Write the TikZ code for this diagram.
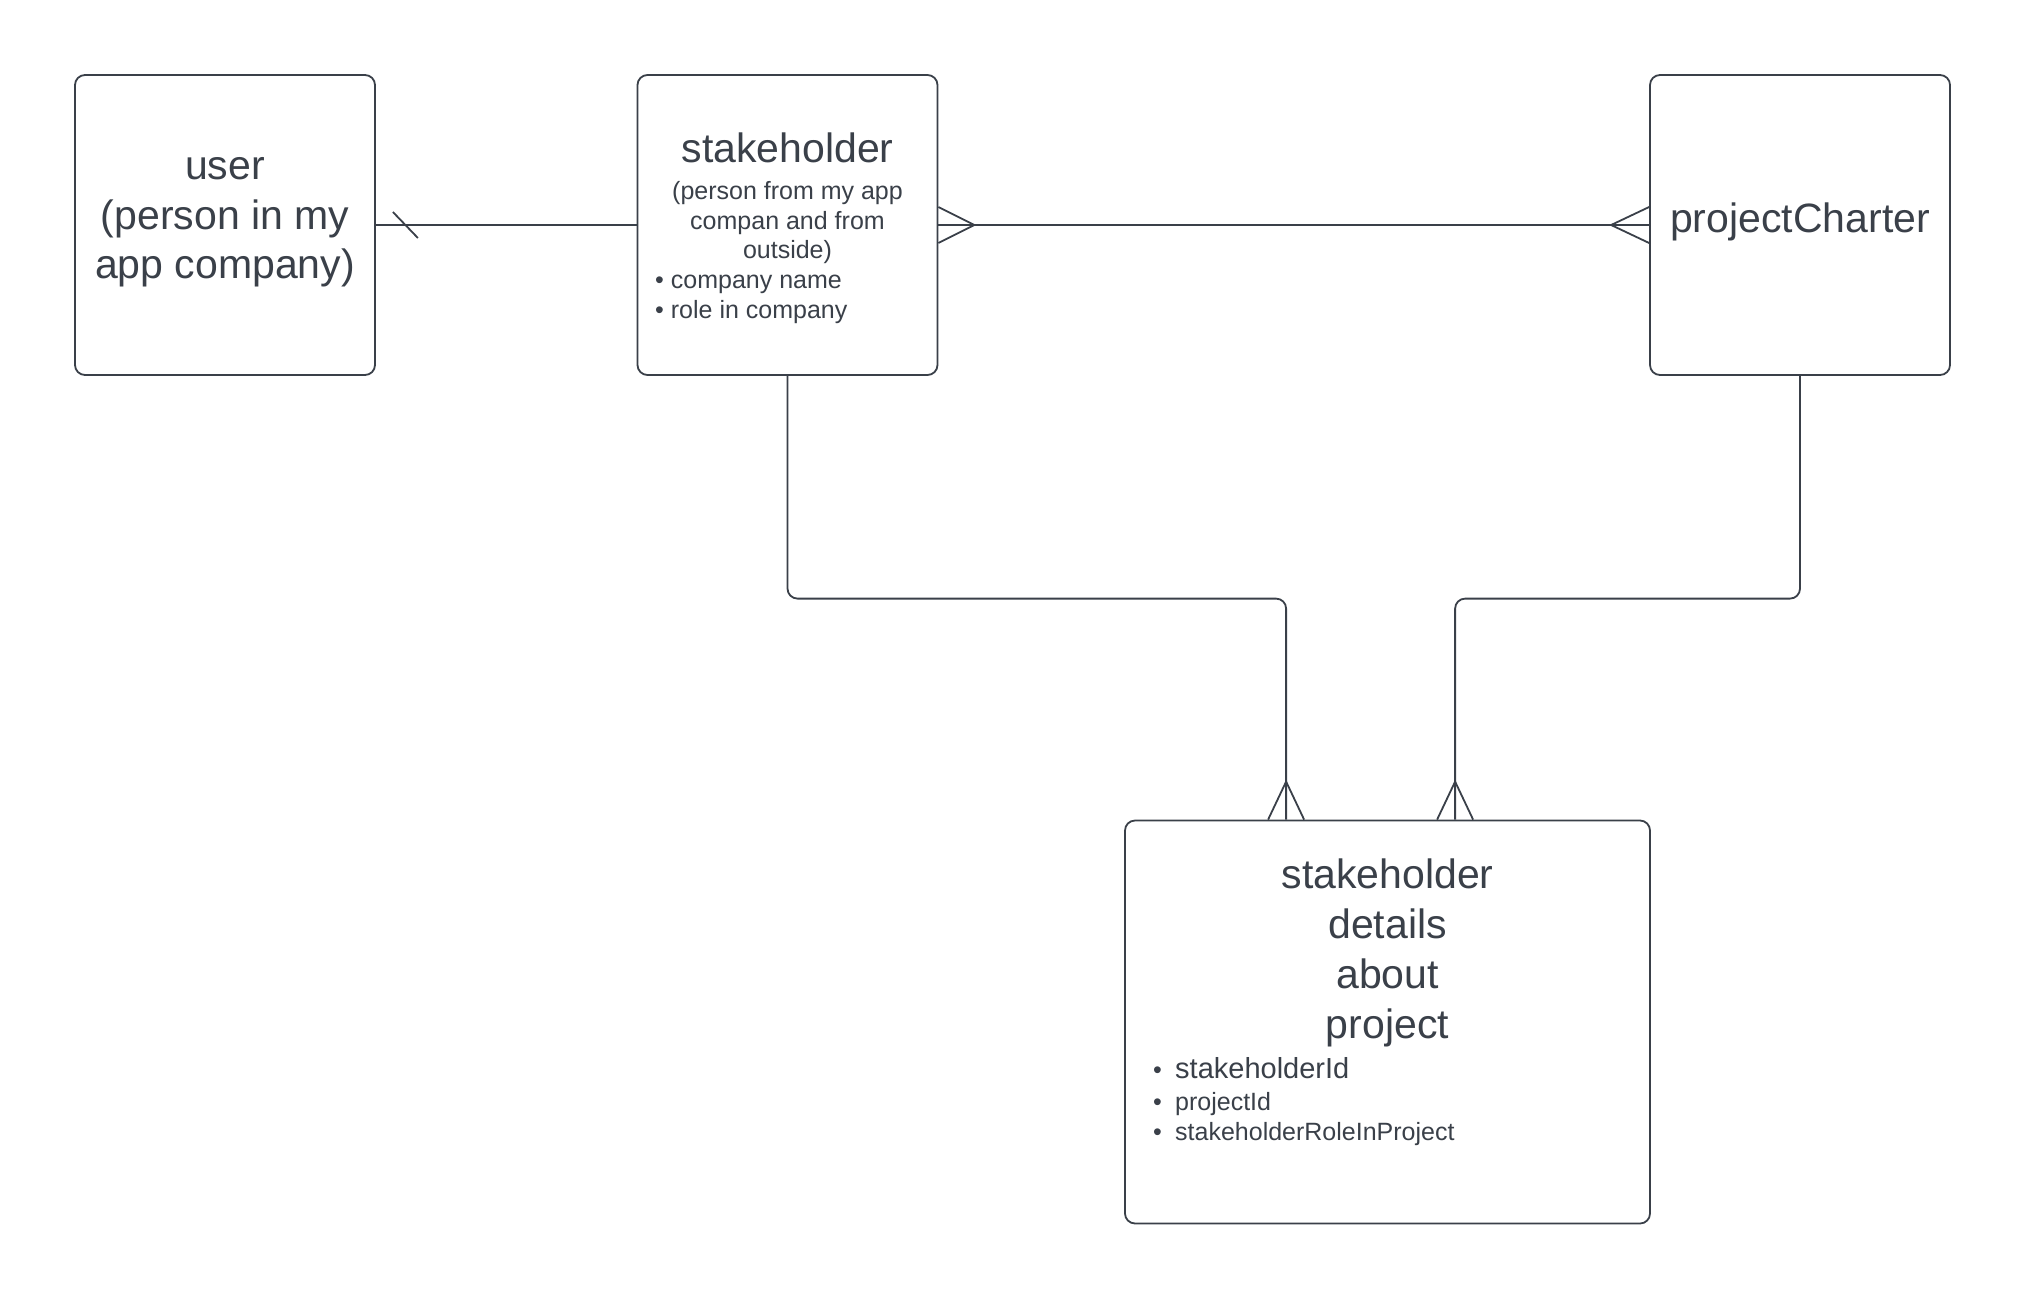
\documentclass[tikz,border=0pt]{standalone}
\usepackage{fontspec}
\setmainfont{Liberation Sans}
\usetikzlibrary{calc}
\definecolor{ink}{HTML}{3A4049}
\newcommand\fbig{\fontsize{41}{50}\selectfont}
\newcommand\fmid{\fontsize{25}{30}\selectfont}
\newcommand\fmdb{\fontsize{29}{34}\selectfont}
\begin{document}
\begin{tikzpicture}[x=1pt,y=-1pt,
  box/.style={draw=ink, line width=1.8pt, rounded corners=10pt, inner sep=0pt},
  conn/.style={draw=ink, line width=1.8pt, rounded corners=10pt},
  crow/.style={draw=ink, line width=1.8pt, line join=miter},
  txt/.style={inner sep=0pt, anchor=base, text=ink},
  ltxt/.style={inner sep=0pt, anchor=base west, text=ink}]
\useasboundingbox[fill=white] (0,0) rectangle (2025,1299);
% boxes
\node[box, minimum width=300pt, minimum height=300pt] (user) at (225,225) {};
\node[box, minimum width=300pt, minimum height=300pt] (stake) at (787.5,225) {};
\node[box, minimum width=300pt, minimum height=300pt] (pc) at (1800,225) {};
\node[box, minimum width=525pt, minimum height=403pt] (det) at (1387.5,1022) {};
% user text
\node[txt] (u1) at (225,179.5) {\fbig user};
\node[txt] (u2) at (225,229.5) {\fbig (person in my};
\node[txt] (u3) at (225,278.5) {\fbig app company)};
% stakeholder text
\node[txt] (s1) at (787.5,162) {\fbig stakeholder};
\node[txt] (s2) at (787.5,199) {\fmid (person from my app};
\node[txt] (s3) at (787.5,229) {\fmid compan and from};
\node[txt] (s4) at (787.5,258) {\fmid outside)};
\node[ltxt] (s5) at (655,288) {\fmid • company name};
\node[ltxt] (s6) at (655,318) {\fmid • role in company};
% projectCharter
\node[txt] (p1) at (1800,232) {\fbig projectCharter};
% details text
\node[txt] (d1t) at (1387.5,888) {\fbig stakeholder};
\node[txt] (d2t) at (1387.5,938) {\fbig details};
\node[txt] (d3t) at (1387.5,988) {\fbig about};
\node[txt] (d4t) at (1387.5,1038) {\fbig project};
\node[ltxt] (b1) at (1153,1078) {\fmid •};
\node[ltxt] (b2) at (1153,1110) {\fmid •};
\node[ltxt] (b3) at (1153,1140) {\fmid •};
\node[ltxt] (i1) at (1175,1078) {\fmdb stakeholderId};
\node[ltxt] (i2) at (1175,1110) {\fmid projectId};
\node[ltxt] (i3) at (1175,1140) {\fmid stakeholderRoleInProject};
% connector user - stakeholder
\draw[conn] (user.east) -- (stake.west);
\draw[crow] ($(user.east)+(17,-13)$) -- ($(user.east)+(42,13)$);
% connector stakeholder - projectCharter
\draw[conn] (stake.east) -- (pc.west);
\draw[crow] ($(stake.east)+(0,-18)$) -- ($(stake.east)+(36,0)$) -- ($(stake.east)+(0,18)$);
\draw[crow] ($(pc.west)+(0,-18)$) -- ($(pc.west)+(-38,0)$) -- ($(pc.west)+(0,18)$);
% connectors to details
\coordinate (da) at ($(det.north west)+(162,0)$);
\coordinate (db) at ($(det.north west)+(331,0)$);
\draw[conn] (stake.south) |- ($(da)+(0,-221)$) -- (da);
\draw[conn] (pc.south) |- ($(db)+(0,-221)$) -- (db);
\draw[crow] ($(da)+(-18,0)$) -- ($(da)+(0,-38)$) -- ($(da)+(18,0)$);
\draw[crow] ($(db)+(-18,0)$) -- ($(db)+(0,-38)$) -- ($(db)+(18,0)$);
\end{tikzpicture}
\end{document}
